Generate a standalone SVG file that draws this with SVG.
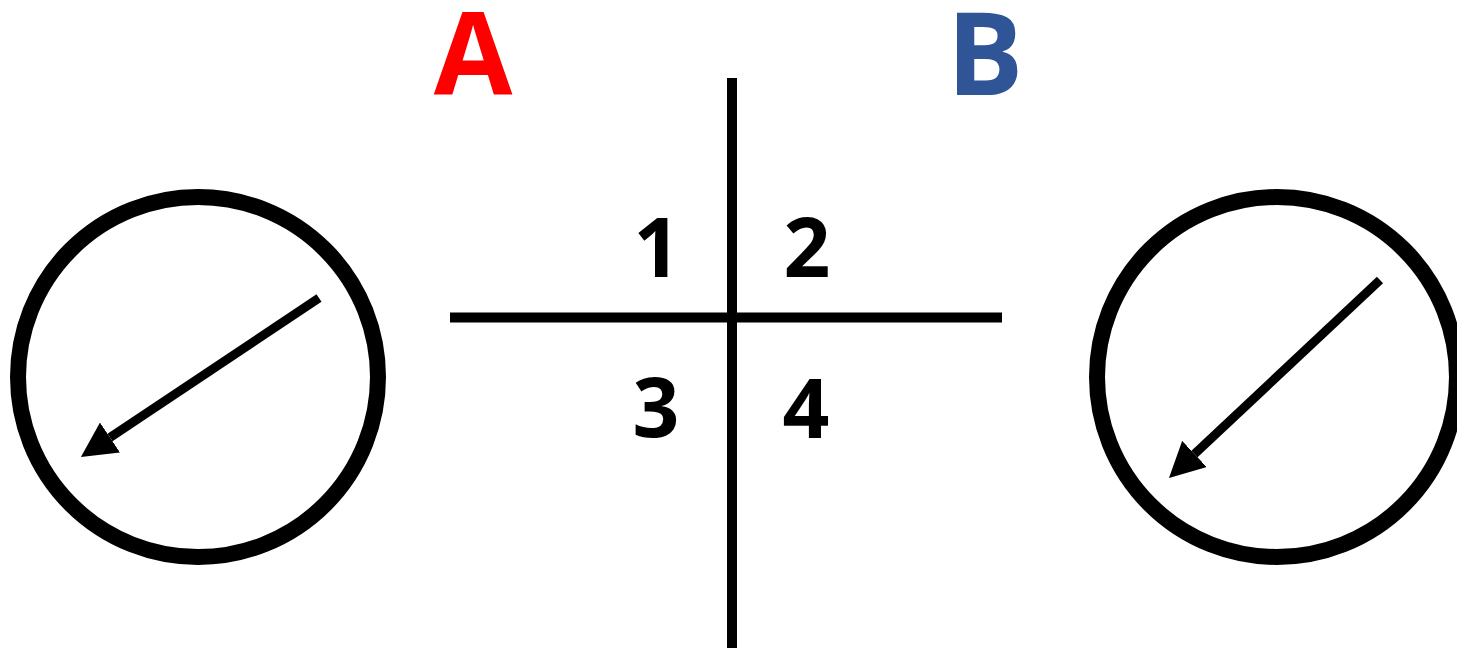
<svg xmlns="http://www.w3.org/2000/svg" width="1457" height="648" viewBox="0 0 1457 648">
<defs>
<style>
.ring{fill:none;stroke:#000;stroke-width:16}
.axis{stroke:#000;stroke-width:10;fill:none}
.ptr{stroke:#000;stroke-width:9;fill:none;marker-end:url(#head)}
.num{font-family:"Open Sans","Liberation Sans",sans-serif;font-weight:700;font-size:82px;fill:#000;text-anchor:middle}
.big{font-family:"Open Sans","Liberation Sans",sans-serif;font-weight:700;font-size:114px;text-anchor:middle}
</style>
<marker id="head" markerUnits="userSpaceOnUse" viewBox="0 -18 35 36" refX="0" refY="0" markerWidth="35" markerHeight="36" orient="auto">
<path d="M0,-18 L35,0 L0,18 z" fill="#000"/>
</marker>
</defs>
<rect width="1457" height="648" fill="#fff"/>
<g id="label-A"><text class="big" x="473" y="95" fill="#FF0000">A</text></g>
<g id="label-B"><text class="big" x="985" y="95" fill="#2F5597">B</text></g>
<g id="dial-left">
<circle class="ring" cx="198" cy="377" r="180"/>
</g>
<g id="dial-right">
<circle class="ring" cx="1277" cy="377" r="180"/>
</g>
<g id="quadrants">
<line class="axis" x1="732" y1="78" x2="732" y2="648"/>
<line class="axis" x1="450" y1="317.5" x2="1002" y2="317.5" stroke-width="11"/>
<text class="num" x="657" y="277">1</text>
<text class="num" x="807" y="277">2</text>
<text class="num" x="656" y="437">3</text>
<text class="num" x="806" y="438">4</text>
</g>
<g id="connectors">
<line class="ptr" x1="319" y1="298" x2="110" y2="437.5"/>
<line class="ptr" x1="1380" y1="280" x2="1194.5" y2="454"/>
</g>
</svg>
